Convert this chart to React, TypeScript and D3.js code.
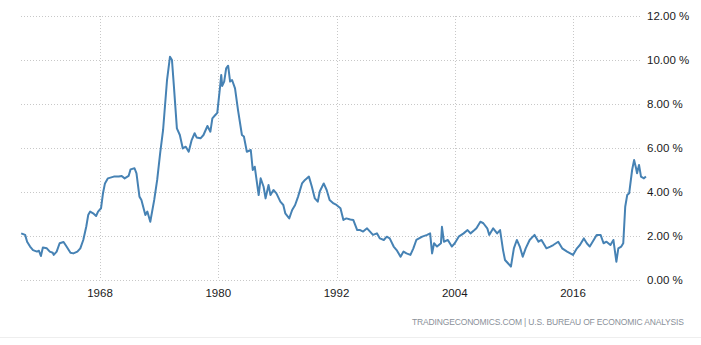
import React from "react";
import * as d3 from "d3";

// core inflation, year-over-year %
const years = [
  1960.0, 1960.4, 1960.6, 1960.9, 1961.2, 1961.6, 1961.8, 1962.0, 1962.2, 1962.6,
  1962.9, 1963.2, 1963.3, 1963.6, 1963.9, 1964.3, 1964.6, 1965.0, 1965.3, 1965.7,
  1966.0, 1966.3, 1966.6, 1966.8, 1967.0, 1967.3, 1967.6, 1967.8, 1968.1, 1968.3,
  1968.5, 1968.8, 1969.4, 1969.9, 1970.2, 1970.5, 1970.9, 1971.1, 1971.5, 1971.7,
  1972.0, 1972.2, 1972.6, 1972.8, 1973.1, 1973.5, 1973.8, 1974.1, 1974.4, 1974.8,
  1975.1, 1975.3, 1975.5, 1975.8, 1976.1, 1976.4, 1976.7, 1977.0, 1977.3, 1977.6,
  1977.8, 1978.2, 1978.5, 1978.9, 1979.2, 1979.4, 1979.7, 1979.9, 1980.2, 1980.3,
  1980.4, 1980.6, 1980.8, 1981.0, 1981.2, 1981.4, 1981.7, 1982.0, 1982.4, 1982.6,
  1982.9, 1983.3, 1983.5, 1983.7, 1984.1, 1984.3, 1984.6, 1984.8, 1985.1, 1985.3,
  1985.6, 1985.9, 1986.3, 1986.6, 1986.8, 1987.2, 1987.5, 1987.8, 1988.1, 1988.5,
  1988.8, 1989.2, 1989.5, 1989.8, 1990.1, 1990.3, 1990.7, 1991.0, 1991.3, 1991.7,
  1992.0, 1992.4, 1992.7, 1993.0, 1993.4, 1993.7, 1994.1, 1994.4, 1994.7, 1995.1,
  1995.4, 1995.7, 1996.1, 1996.4, 1996.8, 1997.1, 1997.4, 1997.8, 1998.1, 1998.5,
  1998.8, 1999.1, 1999.5, 1999.8, 2000.1, 2000.7, 2001.2, 2001.5, 2001.7, 2001.9,
  2002.2, 2002.6, 2002.7, 2002.9, 2003.3, 2003.7, 2004.0, 2004.4, 2004.9, 2005.3,
  2005.6, 2006.0, 2006.2, 2006.6, 2006.9, 2007.3, 2007.5, 2007.9, 2008.3, 2008.6,
  2008.9, 2009.1, 2009.4, 2009.7, 2010.0, 2010.3, 2010.6, 2010.9, 2011.2, 2011.6,
  2012.1, 2012.5, 2012.8, 2013.3, 2013.7, 2014.0, 2014.5, 2014.9, 2015.4, 2016.0,
  2016.4, 2016.7, 2017.1, 2017.4, 2017.7, 2018.1, 2018.4, 2018.8, 2019.1, 2019.4,
  2019.8, 2020.1, 2020.4, 2020.6, 2020.9, 2021.1, 2021.3, 2021.5, 2021.7, 2022.0,
  2022.2, 2022.4, 2022.5, 2022.7, 2022.9, 2023.2, 2023.4,
];

const values = [
  2.12, 2.05, 1.74, 1.52, 1.36, 1.29, 1.33, 1.09, 1.48, 1.44,
  1.29, 1.24, 1.14, 1.29, 1.67, 1.73, 1.52, 1.24, 1.21, 1.29,
  1.44, 1.82, 2.42, 2.95, 3.11, 3.03, 2.91, 3.11, 3.26, 3.94,
  4.39, 4.62, 4.7, 4.7, 4.73, 4.62, 4.73, 5.03, 5.08, 4.85,
  3.79, 3.64, 2.95, 3.11, 2.65, 3.64, 4.55, 5.76, 6.82, 9.09,
  10.15, 10.0, 8.79, 6.89, 6.59, 5.98, 6.06, 5.83, 6.36, 6.67,
  6.48, 6.44, 6.59, 7.0, 6.74, 7.35, 7.5, 7.6, 8.86, 9.32,
  8.82, 9.02, 9.62, 9.74, 9.02, 9.09, 8.71, 7.73, 6.59, 6.52,
  5.83, 5.91, 5.0, 5.15, 3.86, 4.62, 4.24, 3.71, 4.32, 3.86,
  4.09, 3.94, 3.56, 3.41, 3.03, 2.8, 3.18, 3.41, 3.79, 4.39,
  4.55, 4.7, 4.24, 3.71, 3.56, 4.02, 4.39, 4.09, 3.64, 3.48,
  3.41, 3.26, 2.73, 2.8, 2.75, 2.73, 2.27, 2.27, 2.2, 2.35,
  2.2, 2.05, 2.12, 1.89, 1.82, 1.97, 1.89, 1.52, 1.36, 1.06,
  1.29, 1.21, 1.14, 1.44, 1.82, 1.97, 2.05, 2.12, 1.21, 1.67,
  1.52, 1.67, 2.42, 1.74, 1.82, 1.52, 1.67, 1.97, 2.12, 2.27,
  2.12, 2.27, 2.35, 2.65, 2.58, 2.35, 2.05, 2.35, 2.12, 2.27,
  1.36, 0.91, 0.76, 0.61, 1.44, 1.82, 1.52, 1.06, 1.44, 1.82,
  2.05, 1.74, 1.82, 1.44, 1.52, 1.59, 1.74, 1.44, 1.29, 1.14,
  1.44, 1.59, 1.89, 1.67, 1.52, 1.82, 2.05, 2.05, 1.67, 1.74,
  1.59, 1.82, 0.83, 1.44, 1.52, 1.67, 3.33, 3.86, 3.94, 5.0,
  5.45, 5.08, 4.85, 5.23, 4.7, 4.62, 4.7,
];

const xTicks = [1968, 1980, 1992, 2004, 2016];
const yTicks = [0, 2, 4, 6, 8, 10, 12];
const source = "TRADINGECONOMICS.COM | U.S. BUREAU OF ECONOMIC ANALYSIS";

const W = 701;
const H = 345;

export default function App() {
  const x = d3.scaleLinear().domain([1960, 2016]).range([21.2, 573]);
  const y = d3.scaleLinear().domain([0, 12]).range([280, 16]);

  const points = years.map((yr, i) => [yr, values[i]] as [number, number]);
  const line = d3
    .line<[number, number]>()
    .x((d) => x(d[0]))
    .y((d) => y(d[1]));

  const gridLeft = 21;
  const gridRight = 641;
  const font = "'Liberation Sans', Arial, sans-serif";

  return (
    <svg
      width={W}
      height={H}
      style={{ position: "absolute", left: 0, top: 0, background: "#fff" }}
    >
      {/* horizontal grid + right labels */}
      {yTicks.map((t) => (
        <g key={"y" + t}>
          <line
            x1={gridLeft}
            x2={gridRight}
            y1={Math.round(y(t)) + 0.5}
            y2={Math.round(y(t)) + 0.5}
            stroke="#c8c8c8"
            strokeDasharray="1,2"
          />
          <text
            x={647}
            y={y(t) + 4}
            fontFamily={font}
            fontSize={11.5}
            fill="#1a1a1a"
          >
            {d3.format(".2f")(t) + " %"}
          </text>
        </g>
      ))}

      {/* vertical grid + year labels */}
      {xTicks.map((t) => (
        <g key={"x" + t}>
          <line
            x1={Math.round(x(t)) + 0.5}
            x2={Math.round(x(t)) + 0.5}
            y1={y(12)}
            y2={y(0)}
            stroke="#c8c8c8"
            strokeDasharray="1,2"
          />
          <text
            x={x(t)}
            y={297}
            textAnchor="middle"
            fontFamily={font}
            fontSize={11.5}
            fill="#1a1a1a"
          >
            {t}
          </text>
        </g>
      ))}

      <path
        d={line(points) || ""}
        fill="none"
        stroke="#4682b4"
        strokeWidth={2}
        strokeLinejoin="round"
      />

      <text
        x={412}
        y={325}
        textLength={272}
        lengthAdjust="spacing"
        fontFamily={font}
        fontSize={8.5}
        fill="#8a9099"
      >
        {source}
      </text>

      <line x1={0} x2={W} y1={337.5} y2={337.5} stroke="#eeeeee" />
    </svg>
  );
}
